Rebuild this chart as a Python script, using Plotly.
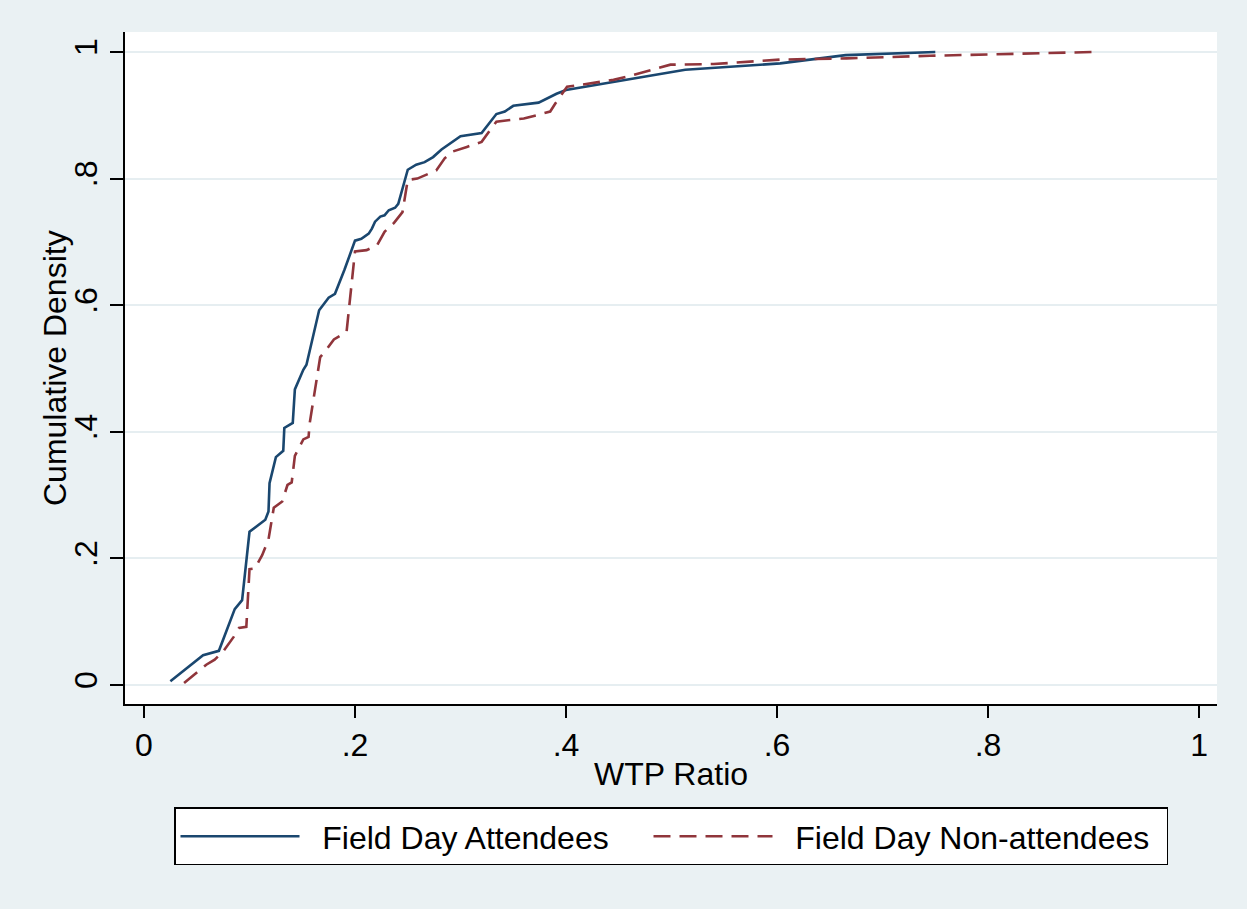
import plotly.graph_objects as go

x_att = [0.025, 0.056, 0.071, 0.086, 0.093, 0.100, 0.115, 0.118, 0.119, 0.125,
         0.132, 0.133, 0.141, 0.143, 0.151, 0.154, 0.166, 0.175, 0.181, 0.190,
         0.200, 0.206, 0.213, 0.216, 0.219, 0.224, 0.228, 0.232, 0.238, 0.241,
         0.250, 0.258, 0.266, 0.274, 0.282, 0.300, 0.320, 0.334, 0.342, 0.350,
         0.374, 0.391, 0.400, 0.513, 0.603, 0.665, 0.750]
y_att = [0.006, 0.047, 0.054, 0.120, 0.134, 0.242, 0.261, 0.274, 0.319, 0.360,
         0.370, 0.406, 0.414, 0.467, 0.498, 0.506, 0.592, 0.612, 0.618, 0.656,
         0.702, 0.705, 0.713, 0.721, 0.732, 0.740, 0.742, 0.750, 0.754, 0.760,
         0.814, 0.822, 0.826, 0.834, 0.846, 0.867, 0.872, 0.902, 0.906, 0.915,
         0.920, 0.934, 0.940, 0.972, 0.982, 0.995, 1.000]

# Field Day Non-attendees
x_non = [0.038, 0.047, 0.059, 0.067, 0.075, 0.085, 0.090, 0.097, 0.100, 0.105,
         0.112, 0.118, 0.123, 0.131, 0.136, 0.140, 0.143, 0.151, 0.156, 0.157,
         0.167, 0.173, 0.180, 0.192, 0.200, 0.211, 0.221, 0.228, 0.237, 0.245,
         0.250, 0.259, 0.268, 0.277, 0.285, 0.293, 0.306, 0.320, 0.334, 0.347,
         0.360, 0.372, 0.385, 0.390, 0.401, 0.413, 0.445, 0.458, 0.499, 0.540,
         0.603, 0.666, 0.745, 0.900]
y_non = [0.003, 0.016, 0.032, 0.040, 0.053, 0.076, 0.090, 0.092, 0.183, 0.184,
         0.205, 0.230, 0.280, 0.290, 0.316, 0.320, 0.362, 0.388, 0.392, 0.413,
         0.518, 0.530, 0.546, 0.558, 0.685, 0.687, 0.695, 0.716, 0.730, 0.747,
         0.798, 0.800, 0.806, 0.813, 0.832, 0.843, 0.850, 0.858, 0.890, 0.893,
         0.895, 0.900, 0.906, 0.919, 0.945, 0.948, 0.956, 0.961, 0.980, 0.981,
         0.988, 0.990, 0.994, 1.000]

x_ticks = [0, 0.2, 0.4, 0.6, 0.8, 1.0]
x_tick_labels = ["0", ".2", ".4", ".6", ".8", "1"]
y_ticks = [0, 0.2, 0.4, 0.6, 0.8, 1.0]
y_tick_labels = ["0", ".2", ".4", ".6", ".8", "1"]

FONT = "Liberation Sans, Arial, sans-serif"
BG = "#EAF1F3"
GRID = "#E6EEF1"
FS = 32
PAD = "\u00a0\u00a0"

fig = go.Figure()
fig.add_trace(go.Scatter(x=x_att, y=y_att, mode="lines", name=PAD + "Field Day Attendees",
                         legendwidth=339,
                         line=dict(color="#1A476F", width=2.6)))
fig.add_trace(go.Scatter(x=x_non, y=y_non, mode="lines", name=PAD + "Field Day Non-attendees",
                         legendwidth=384,
                         line=dict(color="#90353B", width=2.6, dash="17px,9px")))

fig.update_layout(
    width=1247, height=909,
    margin=dict(l=125, r=30, t=32, b=205),
    paper_bgcolor=BG, plot_bgcolor="white",
    font=dict(family=FONT, size=FS, color="black"),
    showlegend=True,
    legend=dict(orientation="h", x=0.5, xanchor="center", y=-0.154, yanchor="top",
                bgcolor="white", bordercolor="black", borderwidth=1.5,
                itemwidth=119, font=dict(family=FONT, size=FS, color="black")),
    annotations=[dict(text="Cumulative Density", xref="paper", yref="paper",
                      x=-0.0641, y=0.5, xanchor="center", yanchor="middle",
                      textangle=-90, showarrow=False, font=dict(family=FONT, size=FS, color="black"))],
)
fig.update_xaxes(range=[-0.018, 1.017], tickmode="array", tickvals=x_ticks, ticktext=x_tick_labels,
                 ticks="outside", ticklen=12, tickwidth=1.5, tickcolor="black",
                 showline=True, linecolor="black", linewidth=1.5, mirror=False,
                 showgrid=False, zeroline=False,
                 title=dict(text="WTP Ratio", standoff=0, font=dict(size=FS)))
fig.update_yaxes(range=[-0.030, 1.0316], tickmode="array", tickvals=y_ticks, ticktext=y_tick_labels,
                 tickangle=-90, ticks="outside", ticklen=13, tickwidth=1.5, tickcolor="black",
                 showline=True, linecolor="black", linewidth=1.5,
                 showgrid=True, gridcolor=GRID, gridwidth=2, zeroline=False)

fig.write_html("out.html", config={"displayModeBar": False},
               post_script="document.body.style.margin='0';document.body.style.background='%s';" % BG)
